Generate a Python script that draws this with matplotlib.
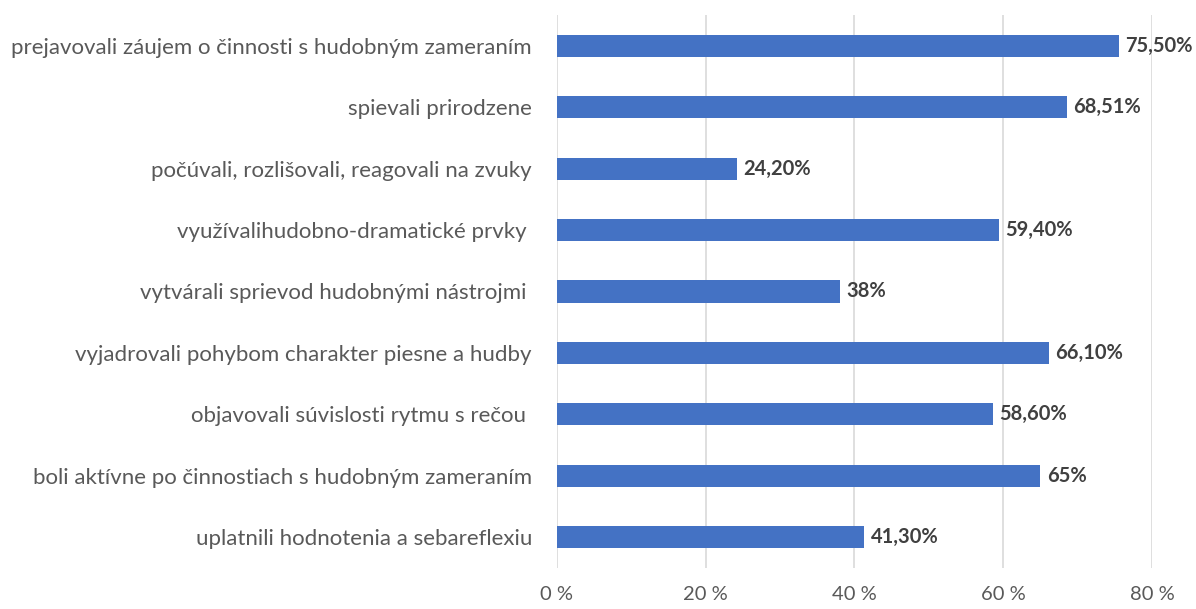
import matplotlib.pyplot as plt

plt.rcParams['font.family'] = ['Lato', 'DejaVu Sans']

categories = [
    'prejavovali záujem o činnosti s hudobným zameraním',
    'spievali prirodzene',
    'počúvali, rozlišovali, reagovali na zvuky',
    'využívalihudobno-dramatické prvky ',
    'vytvárali sprievod hudobnými nástrojmi ',
    'vyjadrovali pohybom charakter piesne a hudby',
    'objavovali súvislosti rytmu s rečou ',
    'boli aktívne po činnostiach s hudobným zameraním',
    'uplatnili hodnotenia a sebareflexiu',
]
values = [75.5, 68.51, 24.2, 59.4, 38, 66.1, 58.6, 65, 41.3]
value_labels = ['75,50%', '68,51%', '24,20%', '59,40%', '38%',
                '66,10%', '58,60%', '65%', '41,30%']
x_ticks = [0, 20, 40, 60, 80]
x_tick_labels = ['0 %', '20 %', '40 %', '60 %', '80 %']

fig = plt.figure(figsize=(11.96, 6.09), dpi=100)
ax = fig.add_axes([0.4657, 0.0673, 0.4975, 0.9081])

pos = list(range(len(categories)))[::-1]
ax.barh(pos, values, height=0.36, color='#4472C4', zorder=3)
for p, v, lab in zip(pos, values, value_labels):
    ax.text(v + 0.9, p, lab, va='center', ha='left', fontsize=14.5,
            fontweight='bold', color='#404040')

ax.set_xlim(0, 80)
ax.set_ylim(-0.5, len(categories) - 0.5)
ax.set_xticks(x_ticks)
ax.set_xticklabels(x_tick_labels)
ax.set_yticks(pos)
ax.set_yticklabels(categories)
ax.tick_params(axis='y', length=0, labelsize=16, colors='#595959', pad=18)
ax.tick_params(axis='x', length=0, labelsize=14.5, colors='#595959', pad=13)
ax.grid(axis='x', color='#d9d9d9', linewidth=1.2, zorder=0)
for s in ax.spines.values():
    s.set_visible(False)

fig.savefig('out.png', dpi=100)
